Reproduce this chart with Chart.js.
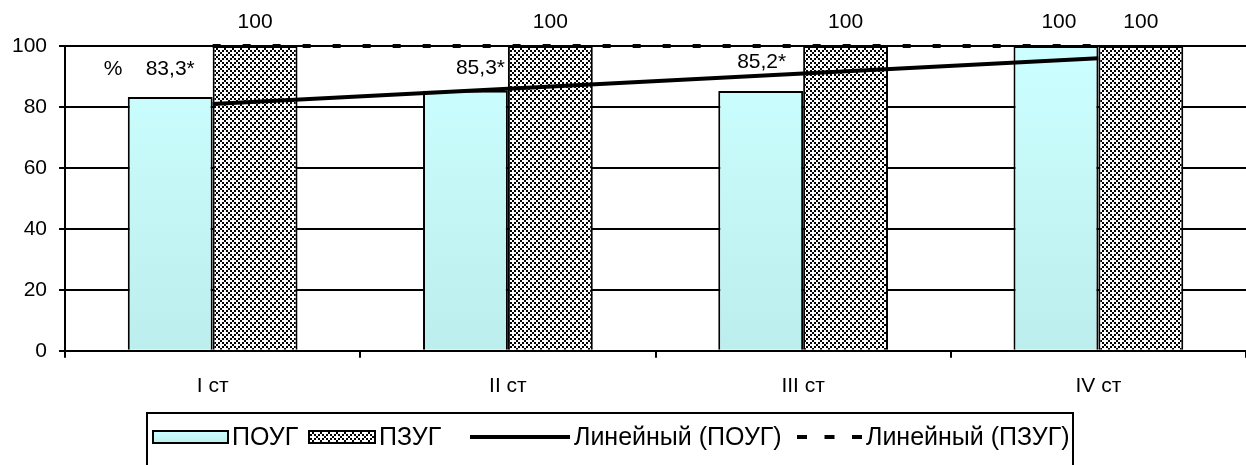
<!DOCTYPE html>
<html>
<head>
<meta charset="utf-8">
<script src="https://cdn.jsdelivr.net/npm/chart.js@4/dist/chart.umd.min.js"></script>
<style>
  html, body { margin: 0; padding: 0; background: #fff; }
  #c { display: block; }
</style>
</head>
<body>
<canvas id="c" width="1246" height="465"></canvas>
<script>
// ---- data ----
const categories = ['I ст', 'II ст', 'III ст', 'IV ст'];
const pougValues = [83.3, 85.3, 85.2, 100];
const pzugValues = [100, 100, 100, 100];
const pougTrend = [80.95, 85.95, 90.95, 95.95];
const pzugTrend = [100, 100, 100, 100];
const pougNotes = ['*', '*', '*', ''];
const yTicks = [0, 20, 40, 60, 80, 100];
const seriesNames = ['ПОУГ', 'ПЗУГ', 'Линейный (ПОУГ)', 'Линейный (ПЗУГ)'];
const unitLabel = '%';

// ---- styling ----
const FONT = '"Liberation Sans", Arial, sans-serif';
const FONT_SIZE = 21;
const LEGEND_FONT_SIZE = 25;
const pougLabelShift = [[0, -28], [15, -23], [1, -29], [3, -24]];
const pzugLabelShift = [[0, -24], [0, -24], [0, -24], [0, -24]];
const legendStyle = {
  left: 147, top: 413, midY: 437, right: 1073,
  symbolX: [153, 309, 470, 797], symbolW: [75, 66, 100, 65], symbolH: 12, textGap: 4
};

const canvas = document.getElementById('c');
const ctx2d = canvas.getContext('2d');

function makeCheckPattern(ctx) {
  const t = document.createElement('canvas');
  t.width = 8; t.height = 8;
  const g = t.getContext('2d');
  g.fillStyle = '#fff';
  g.fillRect(0, 0, 8, 8);
  g.fillStyle = '#000';
  for (let i = 0; i < 4; i++) {
    for (let j = 0; j < 4; j++) {
      if ((i - j + 4) % 4 === 0 || (i + j) % 4 === 0) g.fillRect(i * 2, j * 2, 2, 2);
    }
  }
  return ctx.createPattern(t, 'repeat');
}
const checkPattern = makeCheckPattern(ctx2d);

function cyanFill(chart, top, bottom) {
  const g = chart.ctx.createLinearGradient(0, top, 0, bottom);
  g.addColorStop(0, '#ccffff');
  g.addColorStop(1, '#bdeeee');
  return g;
}

function fmt(v) {
  return Number.isInteger(v) ? String(v) : v.toFixed(1).replace('.', ',');
}

// value labels above the bars plus the unit sign
const valueLabels = {
  id: 'valueLabels',
  afterDatasetsDraw(chart) {
    const ctx = chart.ctx;
    const m0 = chart.getDatasetMeta(0);
    const m1 = chart.getDatasetMeta(1);
    ctx.save();
    ctx.font = FONT_SIZE + 'px ' + FONT;
    ctx.fillStyle = '#000';
    ctx.textAlign = 'center';
    ctx.textBaseline = 'middle';
    pougValues.forEach((v, i) => {
      const b = m0.data[i];
      ctx.fillText(fmt(v) + pougNotes[i], b.x + pougLabelShift[i][0], b.y + pougLabelShift[i][1]);
    });
    pzugValues.forEach((v, i) => {
      const b = m1.data[i];
      ctx.fillText(fmt(v), b.x + pzugLabelShift[i][0], b.y + pzugLabelShift[i][1]);
    });
    const ca = chart.chartArea;
    ctx.fillText(unitLabel, ca.left + 48, chart.scales.y.getPixelForValue(100) + 23);
    ctx.restore();
  }
};

// boxed legend under the axis
const boxLegend = {
  id: 'boxLegend',
  afterDraw(chart) {
    const ctx = chart.ctx;
    const L = legendStyle;
    ctx.save();
    ctx.font = LEGEND_FONT_SIZE + 'px ' + FONT;
    ctx.textBaseline = 'middle';
    ctx.textAlign = 'left';
    const y = L.midY;
    seriesNames.forEach((name, i) => {
      const x = L.symbolX[i];
      const w = L.symbolW[i];
      if (i === 0 || i === 1) {
        const top = y - L.symbolH / 2;
        ctx.fillStyle = i === 0 ? cyanFill(chart, top, top + L.symbolH) : checkPattern;
        ctx.fillRect(x, top, w, L.symbolH);
        ctx.lineWidth = 2;
        ctx.strokeStyle = '#000';
        ctx.strokeRect(x, top, w, L.symbolH);
      } else {
        ctx.beginPath();
        ctx.lineWidth = 4;
        ctx.strokeStyle = '#000';
        ctx.setLineDash(i === 3 ? [10, 17.5] : []);
        ctx.moveTo(x, y);
        ctx.lineTo(x + w, y);
        ctx.stroke();
        ctx.setLineDash([]);
      }
      ctx.fillStyle = '#000';
      ctx.fillText(name, x + w + L.textGap, y + 1);
    });
    ctx.beginPath();
    ctx.lineWidth = 2;
    ctx.strokeStyle = '#000';
    ctx.moveTo(L.left, chart.height + 5);
    ctx.lineTo(L.left, L.top);
    ctx.lineTo(L.right, L.top);
    ctx.lineTo(L.right, chart.height + 5);
    ctx.stroke();
    ctx.restore();
  }
};

Chart.defaults.font.family = FONT;
Chart.defaults.font.size = FONT_SIZE;
Chart.defaults.color = '#000';

new Chart(ctx2d, {
  data: {
    labels: categories,
    datasets: [
      {
        type: 'bar', label: seriesNames[0], data: pougValues, order: 2,
        backgroundColor: (c) => {
          const ca = c.chart.chartArea;
          if (!ca) return '#c6f6f6';
          return cyanFill(c.chart, ca.top, ca.bottom);
        },
        borderColor: '#000', borderWidth: 2,
        categoryPercentage: 0.575, barPercentage: 1.0
      },
      {
        type: 'bar', label: seriesNames[1], data: pzugValues, order: 2,
        backgroundColor: checkPattern,
        borderColor: '#000', borderWidth: 2,
        categoryPercentage: 0.575, barPercentage: 1.0
      },
      {
        type: 'line', label: seriesNames[2], data: pougTrend, order: 1,
        borderColor: '#000', borderWidth: 4, pointRadius: 0, fill: false, tension: 0, clip: false
      },
      {
        type: 'line', label: seriesNames[3], data: pzugTrend, order: 1,
        borderColor: '#000', borderWidth: 4, borderDash: [8, 22], pointRadius: 0, fill: false, tension: 0, clip: false
      }
    ]
  },
  options: {
    responsive: false,
    animation: false,
    devicePixelRatio: 1,
    layout: { padding: { top: 46, left: 0, right: 0, bottom: 50 } },
    plugins: { legend: { display: false }, tooltip: { enabled: false } },
    scales: {
      x: {
        offset: true,
        grid: { offset: true, drawOnChartArea: false, drawTicks: true, tickLength: 7, color: '#000', lineWidth: 2 },
        border: { display: true, color: '#000', width: 2 },
        ticks: { padding: 16, font: { size: FONT_SIZE } }
      },
      y: {
        min: 0, max: 100,
        afterBuildTicks: (s) => { s.ticks = yTicks.map(v => ({ value: v })); },
        grid: { color: '#000', lineWidth: 2, tickLength: 6, drawTicks: true },
        border: { display: true, color: '#000', width: 2 },
        ticks: { padding: 12, font: { size: 21 } }
      }
    }
  },
  plugins: [valueLabels, boxLegend]
});
</script>
</body>
</html>
